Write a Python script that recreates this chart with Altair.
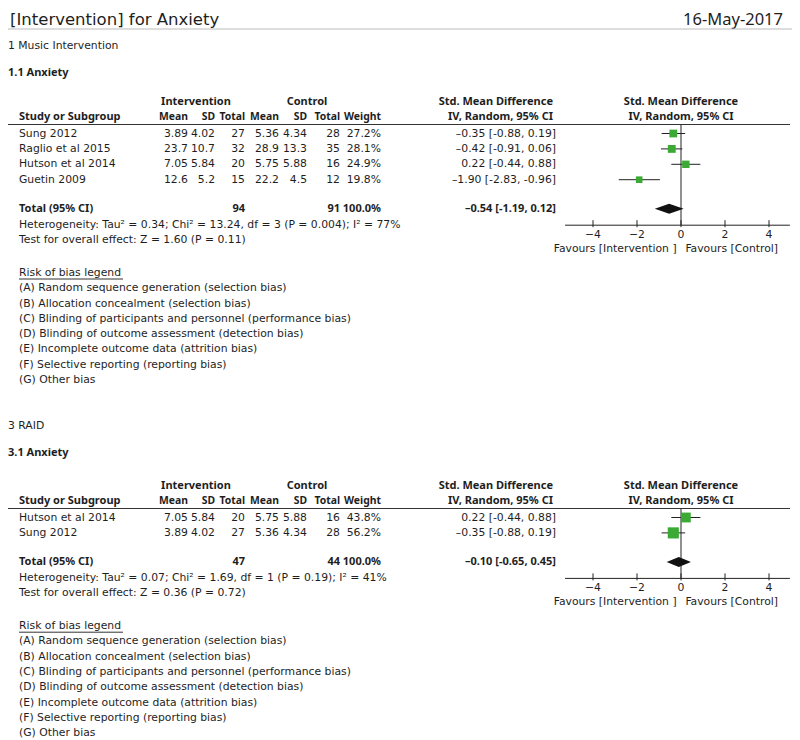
import altair as alt
import pandas as pd

FONT = "DejaVu Sans"
BFONT = "Noto Sans"
INK = "#1e1e1e"
FS = 10.8
BFS = 11.0
HFS = 10.4

title_text = "[Intervention] for Anxiety"
date_text = "16-May-2017"

# ---------------- Section 1 : Music Intervention ----------------
s1_heading = "1 Music Intervention"
s1_sub = "1.1 Anxiety"
s1_study = ["Sung 2012", "Raglio et al 2015", "Hutson et al 2014", "Guetin 2009"]
s1_int_mean = [3.89, 23.7, 7.05, 12.6]
s1_int_sd = [4.02, 10.7, 5.84, 5.2]
s1_int_n = [27, 32, 20, 15]
s1_ctl_mean = [5.36, 28.9, 5.75, 22.2]
s1_ctl_sd = [4.34, 13.3, 5.88, 4.5]
s1_ctl_n = [28, 35, 16, 12]
s1_weight = [27.2, 28.1, 24.9, 19.8]
s1_smd = [-0.35, -0.42, 0.22, -1.90]
s1_lo = [-0.88, -0.91, -0.44, -2.83]
s1_hi = [0.19, 0.06, 0.88, -0.96]
s1_total = [94, 91, 100.0, -0.54, -1.19, 0.12]
s1_het = "Heterogeneity: Tau² = 0.34; Chi² = 13.24, df = 3 (P = 0.004); I² = 77%"
s1_test = "Test for overall effect: Z = 1.60 (P = 0.11)"

# ---------------- Section 3 : RAID ----------------
s2_heading = "3 RAID"
s2_sub = "3.1 Anxiety"
s2_study = ["Hutson et al 2014", "Sung 2012"]
s2_int_mean = [7.05, 3.89]
s2_int_sd = [5.84, 4.02]
s2_int_n = [20, 27]
s2_ctl_mean = [5.75, 5.36]
s2_ctl_sd = [5.88, 4.34]
s2_ctl_n = [16, 28]
s2_weight = [43.8, 56.2]
s2_smd = [0.22, -0.35]
s2_lo = [-0.44, -0.88]
s2_hi = [0.88, 0.19]
s2_total = [47, 44, 100.0, -0.10, -0.65, 0.45]
s2_het = "Heterogeneity: Tau² = 0.07; Chi² = 1.69, df = 1 (P = 0.19); I² = 41%"
s2_test = "Test for overall effect: Z = 0.36 (P = 0.72)"

bias_title = "Risk of bias legend"
bias_items = [
    "(A) Random sequence generation (selection bias)",
    "(B) Allocation concealment (selection bias)",
    "(C) Blinding of participants and personnel (performance bias)",
    "(D) Blinding of outcome assessment (detection bias)",
    "(E) Incomplete outcome data (attrition bias)",
    "(F) Selective reporting (reporting bias)",
    "(G) Other bias",
]
axis_ticks = [-4, -2, 0, 2, 4]
axis_tick_labels = ["−4", "−2", "0", "2", "4"]
fav_left = "Favours [Intervention ]"
fav_right = "Favours [Control]"

# ---------------- layout (page pixel coordinates) ----------------
W, H = 784, 731
YTOP, YBOT = 8, 8 + H
X0 = 681.0        # page x of effect 0
PX_PER_UNIT = 22.0
COL = dict(study=19, im=188, isd=215, inn=245, cm=279, csd=307, cn=340, w=381, smd=556)


def num(v):
    return f"{v:g}"


def smd_txt(e, lo, hi):
    def f(v):
        return f"{v:.2f}".replace("-", "–")
    def g(v):
        return f"{v:.2f}"
    return f"{f(e)} [{g(lo)}, {g(hi)}]"


texts, hlines, forest_pts, diamonds, axes = [], [], [], [], []


def T(x, y, t, st):
    texts.append(dict(x=x, y=y, t=t, st=st))


def section(top, table_top, heading, sub, study, im, isd, inn, cm, csd, cn, w, e, lo, hi, tot, het, test):
    T(8, top, heading, "n_l")
    T(8, top + 27, sub, "b_l")
    h1, h2 = table_top, table_top + 15
    T(196, h1, "Intervention", "b_c")
    T(307, h1, "Control", "b_c")
    T(553, h1, "Std. Mean Difference", "b_r")
    T(X0, h1, "Std. Mean Difference", "b_c")
    T(COL["study"], h2, "Study or Subgroup", "b_l")
    for k, lab in [("im", "Mean"), ("isd", "SD"), ("inn", "Total"), ("cm", "Mean"),
                   ("csd", "SD"), ("cn", "Total"), ("w", "Weight")]:
        T(COL[k], h2, lab, "h_r")
    T(553, h2, "IV, Random, 95% CI", "b_r")
    T(X0, h2, "IV, Random, 95% CI", "b_c")
    line_y = table_top + 22.5
    hlines.append(dict(x=8, x2=790, y=line_y, kind="dark"))
    y = table_top + 31.5
    for i in range(len(study)):
        T(COL["study"], y, study[i], "n_l")
        T(COL["im"], y, num(im[i]), "n_r")
        T(COL["isd"], y, num(isd[i]), "n_r")
        T(COL["inn"], y, str(inn[i]), "n_r")
        T(COL["cm"], y, num(cm[i]), "n_r")
        T(COL["csd"], y, num(csd[i]), "n_r")
        T(COL["cn"], y, str(cn[i]), "n_r")
        T(COL["w"], y, f"{w[i]:.1f}%", "n_r")
        T(COL["smd"], y, smd_txt(e[i], lo[i], hi[i]), "n_r")
        forest_pts.append(dict(y=y, e=e[i], lo=lo[i], hi=hi[i], w=w[i]))
        last = y
        y += 15.4
    ty = last + 29
    T(COL["study"], ty, "Total (95% CI)", "b_l")
    T(COL["inn"], ty, str(tot[0]), "b_r")
    T(COL["cn"], ty, str(tot[1]), "b_r")
    T(COL["w"], ty, f"{tot[2]:.1f}%", "b_r")
    T(COL["smd"], ty, smd_txt(tot[3], tot[4], tot[5]), "b_r")
    for xv, yv, yv2 in [(tot[4], ty, ty), (tot[3], ty - 5, ty + 5), (tot[5], ty, ty)]:
        diamonds.append(dict(sec=heading, x=xv, y=yv, y2=yv2))
    hy = ty + 16
    T(COL["study"], hy, het, "n_l")
    T(COL["study"], hy + 15.3, test, "n_l")
    ay = ty + 16.5
    axes.append(dict(top=line_y, ay=ay))
    ry = hy + 15.3 + 32.5
    T(COL["study"], ry, bias_title, "n_l")
    hlines.append(dict(x=19, x2=123, y=ry + 6.5, kind="dark"))
    for i, it in enumerate(bias_items):
        T(COL["study"], ry + 15.7 + i * 15.3, it, "n_l")


T(10, 19.5, title_text, "t_l")
T(783, 20, date_text, "t_r")
hlines.append(dict(x=8, x2=792, y=29, kind="grey"))

section(46, 102, s1_heading, s1_sub, s1_study, s1_int_mean, s1_int_sd, s1_int_n, s1_ctl_mean,
        s1_ctl_sd, s1_ctl_n, s1_weight, s1_smd, s1_lo, s1_hi, s1_total, s1_het, s1_test)
section(426, 486, s2_heading, s2_sub, s2_study, s2_int_mean, s2_int_sd, s2_int_n, s2_ctl_mean,
        s2_ctl_sd, s2_ctl_n, s2_weight, s2_smd, s2_lo, s2_hi, s2_total, s2_het, s2_test)

txt = pd.DataFrame(texts)
hl = pd.DataFrame(hlines)
fp = pd.DataFrame(forest_pts)
dm = pd.DataFrame(diamonds)

# forest-axis pieces (in effect units)
ax_rows, tick_rows, zero_rows, lab_rows, fav_rows = [], [], [], [], []
for a in axes:
    ax_rows.append(dict(x=-5.27, x2=4.95, y=a["ay"]))
    zero_rows.append(dict(x=0, y=a["top"], y2=a["ay"]))
    for t, lab in zip(axis_ticks, axis_tick_labels):
        tick_rows.append(dict(x=t, y=a["ay"] - 5, y2=a["ay"] + 2))
        lab_rows.append(dict(x=t, y=a["ay"] + 9.5, t=lab))
    fav_rows.append(dict(x=-0.2, y=a["ay"] + 24, t=fav_left, al="right"))
    fav_rows.append(dict(x=0.2, y=a["ay"] + 24, t=fav_right, al="left"))
axdf = pd.DataFrame(ax_rows)
tkdf = pd.DataFrame(tick_rows)
zrdf = pd.DataFrame(zero_rows)
lbdf = pd.DataFrame(lab_rows)
fvdf = pd.DataFrame(fav_rows)

XL = alt.Scale(domain=[8, 792], zero=False, nice=False)
YL = alt.Scale(domain=[YTOP, YBOT], zero=False, nice=False, reverse=True)
XF = alt.Scale(domain=[(8 - X0) / PX_PER_UNIT, (792 - X0) / PX_PER_UNIT], zero=False, nice=False)

yq = lambda f="y": alt.Y(f"{f}:Q", scale=YL, axis=None)

layers = []
STYLES = {
    "n_l": dict(align="left", fontWeight="normal", fontSize=FS, font=FONT),
    "n_r": dict(align="right", fontWeight="normal", fontSize=FS, font=FONT),
    "b_l": dict(align="left", fontWeight="bold", fontSize=BFS, font=BFONT),
    "b_r": dict(align="right", fontWeight="bold", fontSize=BFS, font=BFONT),
    "h_r": dict(align="right", fontWeight="bold", fontSize=HFS, font=BFONT),
    "b_c": dict(align="center", fontWeight="bold", fontSize=BFS, font=BFONT),
    "t_l": dict(align="left", fontWeight="normal", fontSize=16.5, font=FONT),
    "t_r": dict(align="right", fontWeight="normal", fontSize=16.5, font=BFONT),
}
for st, kw in STYLES.items():
    d = txt[txt.st == st]
    if len(d) == 0:
        continue
    layers.append(
        alt.Chart(d).mark_text(baseline="middle", color=INK, **kw).encode(
            x=alt.X("x:Q", scale=XL, axis=None), y=yq(), text="t:N"))

for kind, col in [("dark", "#333333"), ("grey", "#bbbbbb")]:
    layers.append(
        alt.Chart(hl[hl.kind == kind]).mark_rule(color=col, strokeWidth=1).encode(
            x=alt.X("x:Q", scale=XL, axis=None), x2="x2:Q", y=yq()))

# forest plot layers
layers.append(alt.Chart(zrdf).mark_rule(color="#222222", strokeWidth=1).encode(
    x=alt.X("x:Q", scale=XF, axis=None), y=yq(), y2="y2:Q"))
layers.append(alt.Chart(axdf).mark_rule(color="#222222", strokeWidth=1).encode(
    x=alt.X("x:Q", scale=XF, axis=None), x2="x2:Q", y=yq()))
layers.append(alt.Chart(tkdf).mark_rule(color="#222222", strokeWidth=1).encode(
    x=alt.X("x:Q", scale=XF, axis=None), y=yq(), y2="y2:Q"))
layers.append(alt.Chart(lbdf).mark_text(baseline="middle", align="center", font=FONT,
                                        fontSize=FS, color=INK).encode(
    x=alt.X("x:Q", scale=XF, axis=None), y=yq(), text="t:N"))
for al in ["right", "left"]:
    layers.append(alt.Chart(fvdf[fvdf.al == al]).mark_text(
        baseline="middle", align=al, font=FONT, fontSize=FS, color=INK).encode(
        x=alt.X("x:Q", scale=XF, axis=None), y=yq(), text="t:N"))
layers.append(alt.Chart(fp).mark_rule(color="#222222", strokeWidth=1).encode(
    x=alt.X("lo:Q", scale=XF, axis=None), x2="hi:Q", y=yq()))
layers.append(alt.Chart(fp).mark_square(color="#3aaa35", opacity=1, filled=True).encode(
    x=alt.X("e:Q", scale=XF, axis=None), y=yq(),
    size=alt.Size("w:Q", scale=alt.Scale(domain=[0, 100], range=[0, 220], zero=True), legend=None)))
for sec in dm.sec.unique():
    layers.append(alt.Chart(dm[dm.sec == sec]).mark_area(color="#111111", orient="vertical").encode(
        x=alt.X("x:Q", scale=XF, axis=None), y=yq(), y2="y2:Q"))

chart = alt.layer(*layers).resolve_scale(x="independent").properties(
    width=W, height=H, padding=0, autosize="none", background="white"
).configure_view(stroke=None)

chart.save("out.html", embed_options={"renderer": "svg", "actions": False})
